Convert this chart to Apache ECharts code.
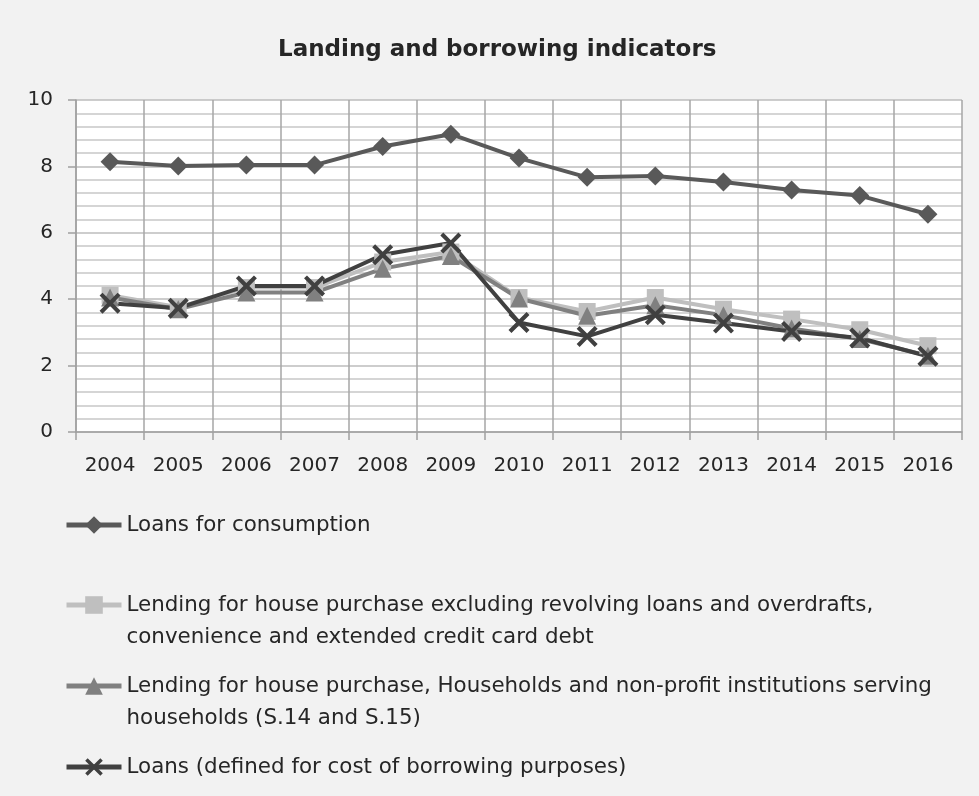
<!DOCTYPE html>
<html>
<head>
<meta charset="utf-8">
<script src="https://cdn.jsdelivr.net/npm/echarts@6/dist/echarts.min.js"></script>
<style>
  html, body { margin: 0; padding: 0; background: #f2f2f2; }
  #chart { width: 979px; height: 796px; }
</style>
</head>
<body>
<div id="chart"></div>
<script>
const years = ['2004', '2005', '2006', '2007', '2008', '2009', '2010', '2011', '2012', '2013', '2014', '2015', '2016']

const consumption = [8.14, 8.01, 8.04, 8.04, 8.6, 8.97, 8.25, 7.67, 7.71, 7.53, 7.29, 7.12, 6.56]
const houseExclRevolving = [4.12, 3.76, 4.35, 4.35, 5.12, 5.42, 4.05, 3.63, 4.05, 3.7, 3.4, 3.08, 2.6]
const houseHouseholds = [4.05, 3.7, 4.2, 4.2, 4.92, 5.3, 4.02, 3.5, 3.82, 3.52, 3.12, 2.8, 2.3]
const loansBorrowing = [3.88, 3.73, 4.4, 4.4, 5.34, 5.69, 3.3, 2.88, 3.53, 3.28, 3.03, 2.83, 2.28]

const seriesNames = [
  'Loans for consumption',
  'Lending for house purchase excluding revolving loans and overdrafts,\nconvenience and extended credit card debt',
  'Lending for house purchase, Households and non-profit institutions serving\nhouseholds (S.14 and S.15)',
  'Loans (defined for cost of borrowing purposes)',
]

const FONT = 'DejaVu Sans'
const TEXT = '#262626'
const xMark = 'path://M0,1.4 L1.4,0 L5,3.6 L8.6,0 L10,1.4 L6.4,5 L10,8.6 L8.6,10 L5,6.4 L1.4,10 L0,8.6 L3.6,5 Z'

const chart = echarts.init(document.getElementById('chart'))

// one legend per entry so the gaps match the picture
// two-line names get a blank first line so the icon sits on the real first line
function legendAt(name, top) {
  return {
    data: [name],
    left: 59,
    top: top,
    orient: 'vertical',
    itemWidth: 55,
    itemHeight: 22,
    selectedMode: false,
    lineStyle: { width: 5 },
    formatter: n => (n.indexOf('\n') >= 0 ? ' \n' + n : n),
    textStyle: {
      fontFamily: FONT,
      fontSize: 21.4,
      color: TEXT,
      lineHeight: 32,
    },
  }
}

chart.setOption({
  backgroundColor: '#f2f2f2',
  animation: false,
  title: {
    text: 'Landing and borrowing indicators',
    left: 273,
    top: 34,
    textStyle: { fontFamily: FONT, fontSize: 23, fontWeight: 'bold', color: TEXT },
  },
  legend: [
    legendAt(seriesNames[0], 504),
    legendAt(seriesNames[1], 552),
    legendAt(seriesNames[2], 633),
    legendAt(seriesNames[3], 746),
  ],
  grid: {
    left: 76,
    right: 17,
    top: 100,
    bottom: 364,
    show: true,
    backgroundColor: '#ffffff',
    borderWidth: 0,
  },
  xAxis: {
    type: 'category',
    data: years,
    boundaryGap: true,
    axisLine: { lineStyle: { color: '#a0a0a0', width: 1.5 } },
    axisTick: { show: true, length: 8, lineStyle: { color: '#a0a0a0', width: 1.5 } },
    axisLabel: { fontFamily: FONT, fontSize: 20, color: TEXT, margin: 24 },
    splitLine: { show: true, lineStyle: { color: '#a6a6a6', width: 1.5 } },
  },
  yAxis: {
    type: 'value',
    min: 0,
    max: 10,
    interval: 2,
    axisLine: { show: true, lineStyle: { color: '#a0a0a0', width: 1.5 } },
    axisTick: { show: true, length: 8, lineStyle: { color: '#a0a0a0', width: 1.5 } },
    axisLabel: { fontFamily: FONT, fontSize: 20, color: TEXT, margin: 23 },
    splitLine: { show: true, lineStyle: { color: '#bdbdbd', width: 1.5 } },
    minorTick: { show: false, splitNumber: 5 },
    minorSplitLine: { show: true, lineStyle: { color: '#c8c8c8', width: 1.5 } },
  },
  series: [
    {
      name: seriesNames[0],
      type: 'line',
      data: consumption,
      symbol: 'diamond',
      symbolSize: 19,
      lineStyle: { width: 4, color: '#595959' },
      itemStyle: { color: '#595959' },
    },
    {
      name: seriesNames[1],
      type: 'line',
      data: houseExclRevolving,
      symbol: 'rect',
      symbolSize: 17,
      lineStyle: { width: 4, color: '#bfbfbf' },
      itemStyle: { color: '#bfbfbf' },
    },
    {
      name: seriesNames[2],
      type: 'line',
      data: houseHouseholds,
      symbol: 'triangle',
      symbolSize: 18,
      lineStyle: { width: 4, color: '#808080' },
      itemStyle: { color: '#808080' },
    },
    {
      name: seriesNames[3],
      type: 'line',
      data: loansBorrowing,
      symbol: xMark,
      symbolSize: 21,
      lineStyle: { width: 4, color: '#404040' },
      itemStyle: { color: '#404040' },
    },
  ],
})
</script>
</body>
</html>
